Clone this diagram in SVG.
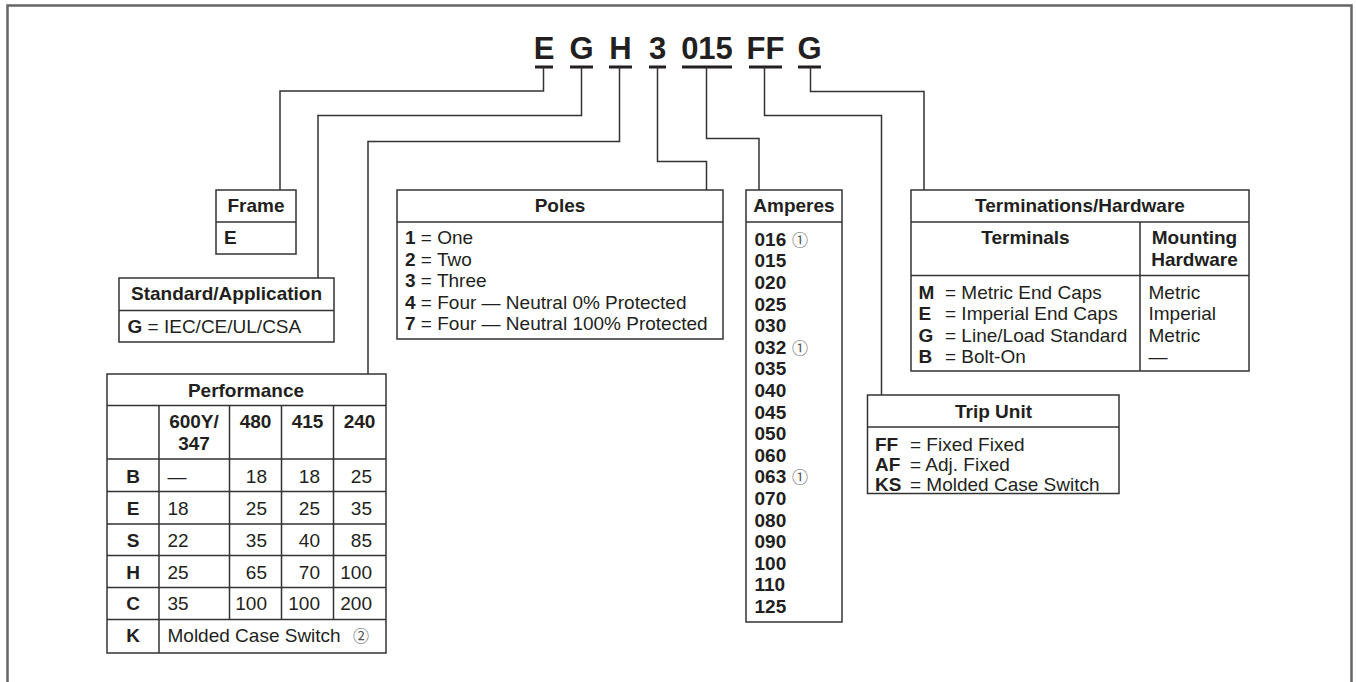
<svg xmlns="http://www.w3.org/2000/svg" width="1356" height="682" viewBox="0 0 1356 682">
<style>
text{font-family:"Liberation Sans",Arial,sans-serif;font-size:19px;fill:#231f20}
.b{font-weight:bold}
.c{text-anchor:middle}
.r{text-anchor:end}
.code{font-size:31px;font-weight:bold;text-anchor:middle}
.box{fill:#fff;stroke:#333;stroke-width:1.5}
.ln{stroke:#333;stroke-width:1.5;fill:none}
.ul{stroke:#231f20;stroke-width:2.8}
.cn{fill:none;stroke:#333;stroke-width:1.5}
.ci{font-family:"Noto Sans CJK JP","DejaVu Sans",sans-serif;font-size:16px;fill:#555;text-anchor:middle}
</style>
<rect width="1356" height="682" fill="#fff"/>
<path d="M7.5 682 V5.5 H1351.5 V682" fill="none" stroke="#666" stroke-width="2.5"/>

<g id="code">
<text class="code" x="544" y="59">E</text>
<text class="code" x="581.5" y="59">G</text>
<text class="code" x="620.5" y="59">H</text>
<text class="code" x="657.5" y="59">3</text>
<text class="code" x="707" y="59">015</text>
<text class="code" x="765.5" y="59">FF</text>
<text class="code" x="809.5" y="59">G</text>
<path class="ul" d="M535 67H553M570 67H593M609 67H632M649 67H666M682 67H732M749 67H782M798 67H821"/>
</g>

<g id="connectors">
<path class="cn" d="M543.5 67 V91 H280 V190"/>
<path class="cn" d="M581.5 67 V115.5 H318 V278"/>
<path class="cn" d="M619.5 67 V141.5 H368 V374"/>
<path class="cn" d="M657.5 67 V161.5 H706.5 V190"/>
<path class="cn" d="M706.5 67 V138.5 H759 V190"/>
<path class="cn" d="M764.5 67 V115.5 H881.5 V395"/>
<path class="cn" d="M810.5 67 V91.5 H924 V190"/>
</g>

<g id="frame">
<rect class="box" x="216" y="190" width="80" height="64"/>
<path class="ln" d="M216 222H296"/>
<text class="b c" x="256" y="212">Frame</text>
<text class="b" x="224" y="244">E</text>
</g>

<g id="standard">
<rect class="box" x="119" y="278" width="215" height="64"/>
<path class="ln" d="M119 310.5H334"/>
<text class="b c" x="226.5" y="300">Standard/Application</text>
<text x="127.5" y="332.5"><tspan class="b">G</tspan> = IEC/CE/UL/CSA</text>
</g>

<g id="performance">
<rect class="box" x="107" y="374" width="279" height="279"/>
<path class="ln" d="M107 405.5H386M107 459H386M107 491.5H386M107 524H386M107 555.5H386M107 587.5H386M107 619.5H386"/>
<path class="ln" d="M159 405.5V653M229.5 405.5V619.5M281.5 405.5V619.5M333.5 405.5V619.5"/>
<text class="b c" x="246" y="396.5">Performance</text>
<text class="b c" x="194" y="428">600Y/</text>
<text class="b c" x="194" y="450">347</text>
<text class="b c" x="255.5" y="428">480</text>
<text class="b c" x="307.5" y="428">415</text>
<text class="b c" x="359.5" y="428">240</text>
<text class="b c" x="133" y="482.5">B</text>
<text class="b c" x="133" y="515">E</text>
<text class="b c" x="133" y="546.5">S</text>
<text class="b c" x="133" y="578.5">H</text>
<text class="b c" x="133" y="610">C</text>
<text class="b c" x="133" y="641.5">K</text>
<text x="167.5" y="482.5">—</text>
<text x="167.5" y="515">18</text>
<text x="167.5" y="546.5">22</text>
<text x="167.5" y="578.5">25</text>
<text x="167.5" y="610">35</text>
<text class="r" x="267" y="482.5">18</text>
<text class="r" x="267" y="515">25</text>
<text class="r" x="267" y="546.5">35</text>
<text class="r" x="267" y="578.5">65</text>
<text class="r" x="267" y="610">100</text>
<text class="r" x="320" y="482.5">18</text>
<text class="r" x="320" y="515">25</text>
<text class="r" x="320" y="546.5">40</text>
<text class="r" x="320" y="578.5">70</text>
<text class="r" x="320" y="610">100</text>
<text class="r" x="372" y="482.5">25</text>
<text class="r" x="372" y="515">35</text>
<text class="r" x="372" y="546.5">85</text>
<text class="r" x="372" y="578.5">100</text>
<text class="r" x="372" y="610">200</text>
<text x="167.5" y="641.5">Molded Case Switch</text>
<text class="ci" x="361" y="641.5">②</text>
</g>

<g id="poles">
<rect class="box" x="397" y="190" width="326" height="149"/>
<path class="ln" d="M397 222H723"/>
<text class="b c" x="560" y="212">Poles</text>
<text x="405" y="244"><tspan class="b">1</tspan> = One</text>
<text x="405" y="265.5"><tspan class="b">2</tspan> = Two</text>
<text x="405" y="287"><tspan class="b">3</tspan> = Three</text>
<text x="405" y="308.5"><tspan class="b">4</tspan> = Four — Neutral 0% Protected</text>
<text x="405" y="330"><tspan class="b">7</tspan> = Four — Neutral 100% Protected</text>
</g>

<g id="amperes">
<rect class="box" x="746" y="190" width="96" height="432"/>
<path class="ln" d="M746 222H842"/>
<text class="b c" x="794" y="212">Amperes</text>
<text class="b" x="754.5" y="245.7">016</text>
<text class="b" x="754.5" y="267.3">015</text>
<text class="b" x="754.5" y="288.9">020</text>
<text class="b" x="754.5" y="310.5">025</text>
<text class="b" x="754.5" y="332.1">030</text>
<text class="b" x="754.5" y="353.7">032</text>
<text class="b" x="754.5" y="375.3">035</text>
<text class="b" x="754.5" y="396.9">040</text>
<text class="b" x="754.5" y="418.5">045</text>
<text class="b" x="754.5" y="440.1">050</text>
<text class="b" x="754.5" y="461.7">060</text>
<text class="b" x="754.5" y="483.3">063</text>
<text class="b" x="754.5" y="504.9">070</text>
<text class="b" x="754.5" y="526.5">080</text>
<text class="b" x="754.5" y="548.1">090</text>
<text class="b" x="754.5" y="569.7">100</text>
<text class="b" x="754.5" y="591.3">110</text>
<text class="b" x="754.5" y="612.9">125</text>
<text class="ci" x="800" y="245.7">①</text>
<text class="ci" x="800" y="353.7">①</text>
<text class="ci" x="800" y="483.3">①</text>
</g>

<g id="terminations">
<rect class="box" x="911" y="190" width="338" height="181"/>
<path class="ln" d="M911 222H1249M911 275.5H1249M1140 222V371"/>
<text class="b c" x="1080" y="212">Terminations/Hardware</text>
<text class="b c" x="1025.5" y="244">Terminals</text>
<text class="b c" x="1194.5" y="244">Mounting</text>
<text class="b c" x="1194.5" y="266">Hardware</text>
<text class="b" x="918.5" y="298.5">M</text>
<text class="b" x="918.5" y="320">E</text>
<text class="b" x="918.5" y="341.5">G</text>
<text class="b" x="918.5" y="363">B</text>
<text x="945" y="298.5">= Metric End Caps</text>
<text x="945" y="320">= Imperial End Caps</text>
<text x="945" y="341.5">= Line/Load Standard</text>
<text x="945" y="363">= Bolt-On</text>
<text x="1148.5" y="298.5">Metric</text>
<text x="1148.5" y="320">Imperial</text>
<text x="1148.5" y="341.5">Metric</text>
<text x="1148.5" y="363">—</text>
</g>

<g id="tripunit">
<rect class="box" x="867.5" y="395" width="251.5" height="98.5"/>
<path class="ln" d="M867.5 427H1119"/>
<text class="b c" x="993.5" y="418">Trip Unit</text>
<text class="b" x="875" y="450.5">FF</text>
<text class="b" x="875" y="471">AF</text>
<text class="b" x="875" y="491">KS</text>
<text x="910" y="450.5">= Fixed Fixed</text>
<text x="910" y="471">= Adj. Fixed</text>
<text x="910" y="491">= Molded Case Switch</text>
</g>
</svg>
